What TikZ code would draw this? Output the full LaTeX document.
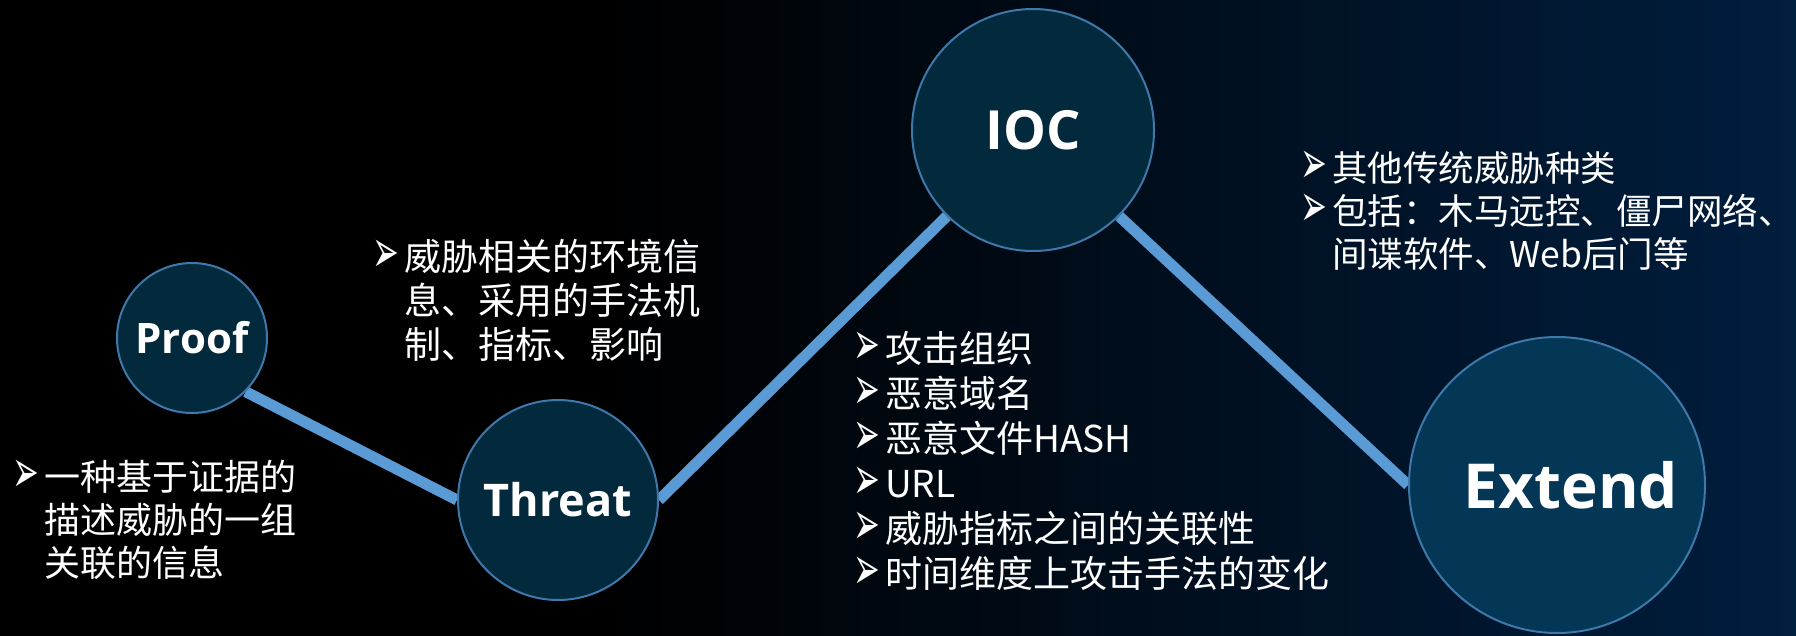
\documentclass[tikz,border=0pt]{standalone}
\usepackage{fontspec}
\newfontfamily\cjk{Noto Sans CJK SC}
\newfontfamily\labfont{Open Sans}[BoldFont={Open Sans Bold}]
\newfontfamily\dvfont{DejaVu Sans}
\definecolor{bgnavy}{RGB}{0,30,62}
\definecolor{circfill}{RGB}{3,41,60}
\definecolor{extfill}{RGB}{4,54,86}
\definecolor{circborder}{RGB}{63,120,170}
\definecolor{linkblue}{RGB}{91,155,213}
\pgfdeclarelayer{bg}
\pgfsetlayers{bg,main}
\newcommand\bul{\makebox[32pt][l]{\dvfont\fontsize{32}{32}\selectfont\raisebox{-2.5pt}{\scalebox{1}[1.9]{➢}}}}
\newcommand\ind{\hspace*{32pt}}
\begin{document}
\begin{tikzpicture}[x=1pt,y=-1pt,
  circ/.style={circle, draw=circborder, line width=2pt, fill=circfill, inner sep=0pt, text=white},
  link/.style={draw=linkblue, line width=11pt},
  txt/.style={anchor=base west, inner sep=0pt, text=white}]
\useasboundingbox (0,0) rectangle (1796,635);
\node[circ, minimum size=150, font=\labfont\bfseries\fontsize{42}{42}\selectfont] (proof) at (192,338) {Proof};
\node[circ, minimum size=200, font=\labfont\bfseries\fontsize{45}{45}\selectfont] (threat) at (558,500) {Threat};
\node[circ, minimum size=242, font=\labfont\bfseries\fontsize{54}{54}\selectfont] (ioc) at (1033,130) {\raisebox{-8pt}{IOC}};
\node[circ, fill=extfill, minimum size=296, font=\labfont\bfseries\fontsize{62}{62}\selectfont] (extend) at (1557,485) {\hspace*{28pt}Extend};
\begin{pgfonlayer}{bg}
\fill[black] (-6,-6) rectangle (1802,641);
\shade[left color=black, right color=bgnavy] (600,-6) rectangle (1802,641);
\draw[link] (proof.-45) -- (threat.180);
\draw[link] (threat.0) -- (ioc.-135);
\draw[link] (ioc.-45) -- (extend.180);
\end{pgfonlayer}
\node[txt, font=\cjk\fontsize{36}{43}\selectfont] (t1) at (12,490)
  {\begin{tabular}[t]{@{}l@{}}\bul 一种基于证据的\\ \ind 描述威胁的一组\\ \ind 关联的信息\end{tabular}};
\node[txt, font=\cjk\fontsize{37}{43}\selectfont] (t2) at (372,270)
  {\begin{tabular}[t]{@{}l@{}}\bul 威胁相关的环境信\\ \ind 息、采用的手法机\\ \ind 制、指标、影响\end{tabular}};
\node[txt, font=\cjk\fontsize{37}{45}\selectfont] (t3) at (853,362)
  {\begin{tabular}[t]{@{}l@{}}\bul 攻击组织\\ \bul 恶意域名\\ \bul 恶意文件HASH\\ \bul URL\\ \bul 威胁指标之间的关联性\\ \bul 时间维度上攻击手法的变化\end{tabular}};
\node[txt, font=\cjk\fontsize{35.5}{43}\selectfont] (t4) at (1300,181)
  {\begin{tabular}[t]{@{}l@{}}\bul 其他传统威胁种类\\ \bul 包括：木马远控、僵尸网络、\\ \ind 间谍软件、Web后门等\end{tabular}};
\end{tikzpicture}
\end{document}
